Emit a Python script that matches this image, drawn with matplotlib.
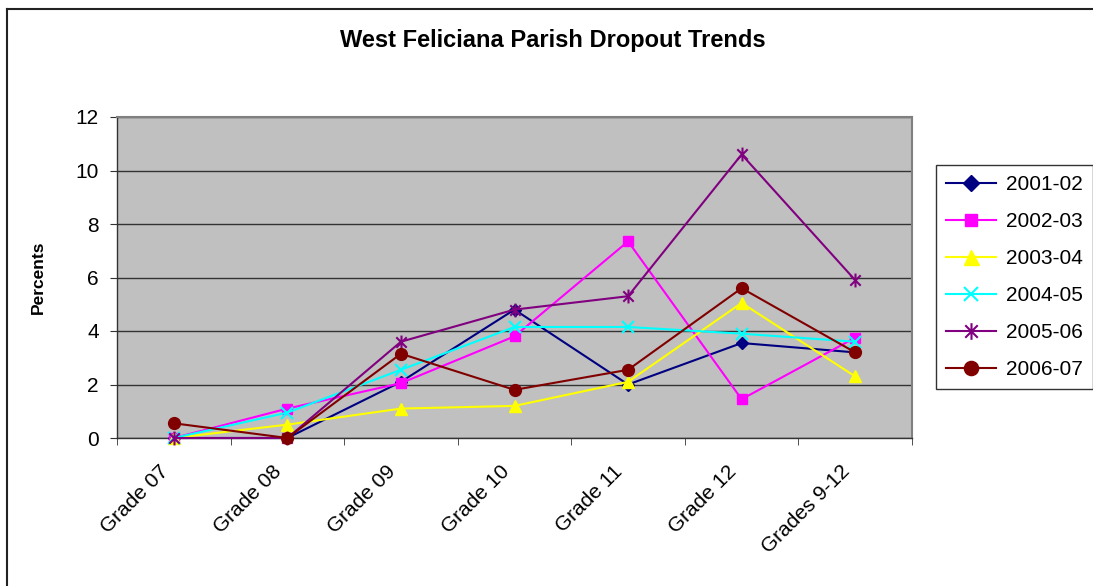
import matplotlib
matplotlib.use("Agg")
import matplotlib.pyplot as plt
import matplotlib.transforms as mtransforms
from matplotlib.path import Path
from matplotlib.lines import Line2D

categories = ["Grade 07", "Grade 08", "Grade 09", "Grade 10", "Grade 11", "Grade 12", "Grades 9-12"]
y2001_02 = [0.0, 0.0, 2.1, 4.8, 2.0, 3.55, 3.2]
y2002_03 = [0.0, 1.1, 2.05, 3.8, 7.35, 1.45, 3.75]
y2003_04 = [0.0, 0.5, 1.1, 1.2, 2.1, 5.05, 2.3]
y2004_05 = [0.0, 0.95, 2.55, 4.15, 4.15, 3.9, 3.6]
y2005_06 = [0.0, 0.0, 3.6, 4.8, 5.3, 10.6, 5.9]
y2006_07 = [0.55, 0.0, 3.15, 1.8, 2.55, 5.6, 3.2]
series_labels = ["2001-02", "2002-03", "2003-04", "2004-05", "2005-06", "2006-07"]
yticks = [0, 2, 4, 6, 8, 10, 12]

plt.rcParams['font.family'] = ['Liberation Sans', 'DejaVu Sans']

star = Path([(0, -1), (0, 1), (-0.75, -0.75), (0.75, 0.75), (-0.75, 0.75), (0.75, -0.75)],
            [Path.MOVETO, Path.LINETO, Path.MOVETO, Path.LINETO, Path.MOVETO, Path.LINETO])

styles = [
    dict(color="#000080", marker="D", ms=6.5),
    dict(color="#FF00FF", marker="s", ms=7.5),
    dict(color="#FFFF00", marker="^", ms=9),
    dict(color="#00FFFF", marker="x", ms=8, mew=1.5),
    dict(color="#800080", marker=star, ms=10, mew=1.5),
    dict(color="#800000", marker="o", ms=8.5),
]
data = [y2001_02, y2002_03, y2003_04, y2004_05, y2005_06, y2006_07]

fig = plt.figure(figsize=(10.93, 5.86), dpi=100)
ax = fig.add_axes([117/1093, 1-438/586, (912-117)/1093, (438-117)/586])
ax.set_facecolor("#C0C0C0")

x = list(range(len(categories)))
for vals, lab, st in zip(data, series_labels, styles):
    ax.plot(x, vals, color=st["color"], marker=st["marker"], markersize=st["ms"],
            markerfacecolor=st["color"], markeredgecolor=st["color"],
            markeredgewidth=st.get("mew", 1.0), lw=1.5, label=lab, clip_on=False, zorder=3)

ax.set_xlim(-0.5, len(categories) - 0.5)
ax.set_ylim(0, 12)
ax.set_yticks(yticks)
ax.set_yticklabels([str(t) for t in yticks], fontsize=15)
ax.yaxis.grid(True, color="#333333", lw=1.0)
ax.set_axisbelow(True)
ax.set_xticks(x)
ax.set_xticklabels(categories, rotation=45, ha="right", va="top", rotation_mode="anchor", fontsize=15)
ax.tick_params(axis="x", length=0, pad=17)
offset = mtransforms.ScaledTranslation(-15/100, 0, fig.dpi_scale_trans)
for lbl in ax.get_xticklabels():
    lbl.set_transform(lbl.get_transform() + offset)
ax.set_xticks([i + 0.5 for i in range(-1, len(categories))], minor=True)
ax.tick_params(axis="x", which="minor", length=5, color="#333333")
ax.tick_params(axis="y", length=5, color="#333333", pad=8)

for s in ["top", "right"]:
    ax.spines[s].set_color("#808080")
    ax.spines[s].set_linewidth(1.5)
for s in ["left", "bottom"]:
    ax.spines[s].set_color("#333333")
    ax.spines[s].set_linewidth(1.0)

ax.set_ylabel("Percents", fontsize=12.5, fontweight="bold")
ax.yaxis.set_label_coords((46-117)/795, 0.5)
fig.text(553/1093, 1-41/586, "West Feliciana Parish Dropout Trends", ha="center", va="center",
         fontsize=17, fontweight="bold")

leg = fig.legend(loc="upper left", bbox_to_anchor=(936/1093, 1-165/586), fontsize=15,
                 frameon=True, fancybox=False, edgecolor="#333333", framealpha=1,
                 handlelength=2.4, labelspacing=0.86, borderpad=0.5, handletextpad=0.45,
                 borderaxespad=0, markerscale=1.2)
leg.get_frame().set_linewidth(1.0)

# outer chart frame
fig.add_artist(Line2D([7/1093, 7/1093], [0, 1-9/586], transform=fig.transFigure, color="#222222", lw=1.5))
fig.add_artist(Line2D([7/1093, 1], [1-9/586, 1-9/586], transform=fig.transFigure, color="#222222", lw=1.5))

fig.savefig("out.png", dpi=100)
